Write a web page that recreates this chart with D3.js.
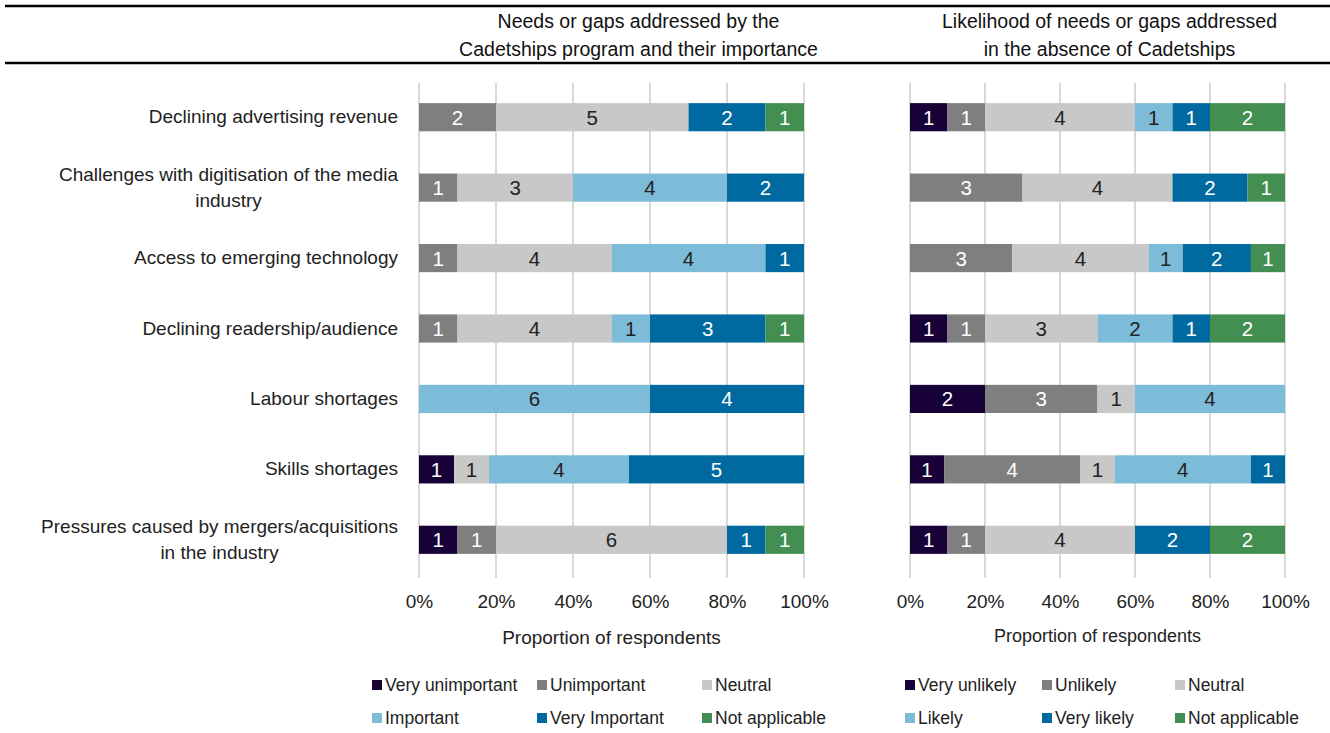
<!DOCTYPE html>
<html>
<head>
<meta charset="utf-8">
<script src="https://cdn.jsdelivr.net/npm/d3@7/dist/d3.min.js"></script>
<style>
  html, body { margin: 0; padding: 0; background: #fff; }
  svg { display: block; font-family: "Liberation Sans", Arial, sans-serif; }
</style>
</head>
<body>
<svg id="chart" width="1330" height="733"></svg>
<script>
// Survey items (rows, top to bottom)
const categories = [
  "Declining advertising revenue",
  "Challenges with digitisation of the media|industry",
  "Access to emerging technology",
  "Declining readership/audience",
  "Labour shortages",
  "Skills shortages",
  "Pressures caused by mergers/acquisitions|in the industry"
];

// Panel 1: importance of each need or gap (respondent counts)
const importanceKeys = ["Very unimportant", "Unimportant", "Neutral", "Important", "Very Important", "Not applicable"];
const veryUnimportant = [0, 0, 0, 0, 0, 1, 1];
const unimportant     = [2, 1, 1, 1, 0, 0, 1];
const neutralImp      = [5, 3, 4, 4, 0, 1, 6];
const important       = [0, 4, 4, 1, 6, 4, 0];
const veryImportant   = [2, 2, 1, 3, 4, 5, 1];
const notApplicableA  = [1, 0, 0, 1, 0, 0, 1];

// Panel 2: likelihood of being addressed without Cadetships (respondent counts)
const likelihoodKeys = ["Very unlikely", "Unlikely", "Neutral", "Likely", "Very likely", "Not applicable"];
const veryUnlikely   = [1, 0, 0, 1, 2, 1, 1];
const unlikely       = [1, 3, 3, 1, 3, 4, 1];
const neutralLik     = [4, 4, 4, 3, 1, 1, 4];
const likely         = [1, 0, 1, 2, 4, 4, 0];
const veryLikely     = [1, 2, 2, 1, 0, 1, 2];
const notApplicableB = [2, 1, 1, 2, 0, 0, 2];

const tickValues = [0, 0.2, 0.4, 0.6, 0.8, 1.0];

const colors = ["#170137", "#7f7f7f", "#c8c8c8", "#7dbcd8", "#006aa0", "#438f52"];
const labelColors = ["#fff", "#fff", "#222", "#222", "#fff", "#fff"];

const svg = d3.select("#chart");

// Header rules
svg.append("line").attr("x1", 5).attr("x2", 1330).attr("y1", 6).attr("y2", 6)
  .attr("stroke", "#000").attr("stroke-width", 2.5);
svg.append("line").attr("x1", 5).attr("x2", 1330).attr("y1", 63).attr("y2", 63)
  .attr("stroke", "#000").attr("stroke-width", 2.5);

const rowScale = d3.scaleBand()
  .domain(d3.range(categories.length))
  .range([82, 575])
  .paddingInner(0.6)
  .paddingOuter(0.3);

function panel(opts) {
  const { x0, x1, keys, series, title, axisTitle, legendX } = opts;
  const g = svg.append("g");
  const x = d3.scaleLinear().domain([0, 1]).range([x0, x1]);

  // Header title
  title.forEach((t, i) => {
    g.append("text").attr("x", (x0 + x1) / 2 + opts.titleShift).attr("y", 28 + i * 28)
      .attr("text-anchor", "middle").attr("font-size", 19.5).attr("fill", "#111").text(t);
  });

  // Vertical gridlines
  g.append("g").selectAll("line").data(tickValues).join("line")
    .attr("x1", d => x(d)).attr("x2", d => x(d))
    .attr("y1", 83).attr("y2", 578)
    .attr("stroke", "#d9d9d9").attr("stroke-width", 2);

  // Stack per row, normalised to proportion of respondents
  const rows = categories.map((c, i) => {
    const o = { i };
    keys.forEach((k, j) => { o[k] = series[j][i]; });
    return o;
  });
  const stack = d3.stack().keys(keys).offset(d3.stackOffsetExpand);
  const layers = stack(rows);

  layers.forEach((layer, j) => {
    const lg = g.append("g");
    lg.selectAll("rect").data(layer.filter(d => d[1] - d[0] > 0)).join("rect")
      .attr("x", d => x(d[0]))
      .attr("width", d => x(d[1]) - x(d[0]))
      .attr("y", d => rowScale(d.data.i))
      .attr("height", rowScale.bandwidth())
      .attr("fill", colors[j]);
    lg.selectAll("text").data(layer.filter(d => d[1] - d[0] > 0)).join("text")
      .attr("x", d => (x(d[0]) + x(d[1])) / 2)
      .attr("y", d => rowScale(d.data.i) + rowScale.bandwidth() / 2 + 7.5)
      .attr("text-anchor", "middle")
      .attr("font-size", 20.5)
      .attr("fill", labelColors[j])
      .text(d => d.data[keys[j]]);
  });

  // Axis
  const axis = d3.axisBottom(x).tickValues(tickValues).tickFormat(d3.format(".0%")).tickSize(0).tickPadding(0);
  const ag = g.append("g").attr("transform", "translate(0,591)").call(axis);
  ag.select(".domain").remove();
  ag.selectAll("text").attr("font-size", 19).attr("fill", "#222")
    .attr("font-family", "\"Liberation Sans\", Arial, sans-serif").attr("dy", "0.9em");

  g.append("text").attr("x", (x0 + x1) / 2).attr("y", opts.axisTitleY)
    .attr("text-anchor", "middle").attr("font-size", opts.axisTitleSize).attr("fill", "#222").text(axisTitle);

  // Legend: 3 columns x 2 rows
  keys.forEach((k, j) => {
    const col = j % 3, row = Math.floor(j / 3);
    const lx = legendX[col], ly = 685 + row * 33;
    g.append("rect").attr("x", lx).attr("y", ly - 5).attr("width", 10).attr("height", 10).attr("fill", colors[j]);
    g.append("text").attr("x", lx + 13).attr("y", ly + 6).attr("font-size", 17.5).attr("fill", "#222").text(k);
  });
}

panel({
  x0: 419, x1: 804,
  keys: importanceKeys,
  series: [veryUnimportant, unimportant, neutralImp, important, veryImportant, notApplicableA],
  title: ["Needs or gaps addressed by the", "Cadetships program and their importance"],
  titleShift: 27,
  axisTitle: "Proportion of respondents",
  axisTitleY: 644, axisTitleSize: 19,
  legendX: [372, 537, 702]
});

panel({
  x0: 910, x1: 1285,
  keys: likelihoodKeys,
  series: [veryUnlikely, unlikely, neutralLik, likely, veryLikely, notApplicableB],
  title: ["Likelihood of needs or gaps addressed", "in the absence of Cadetships"],
  titleShift: 12,
  axisTitleY: 642, axisTitleSize: 18,
  axisTitle: "Proportion of respondents",
  legendX: [905, 1042, 1175]
});

// Category labels, right aligned block with centred lines
categories.forEach((c, i) => {
  const lines = c.split("|");
  const cy = rowScale(i) + rowScale.bandwidth() / 2;
  const tg = svg.append("g");
  const texts = lines.map((l, k) => tg.append("text")
    .attr("y", cy + 6 + (k - (lines.length - 1) / 2) * 26)
    .attr("font-size", 19).attr("fill", "#222").attr("text-anchor", "middle").text(l));
  const w = d3.max(texts, t => t.node().getComputedTextLength());
  texts.forEach(t => t.attr("x", 398 - w / 2));
});
</script>
</body>
</html>
